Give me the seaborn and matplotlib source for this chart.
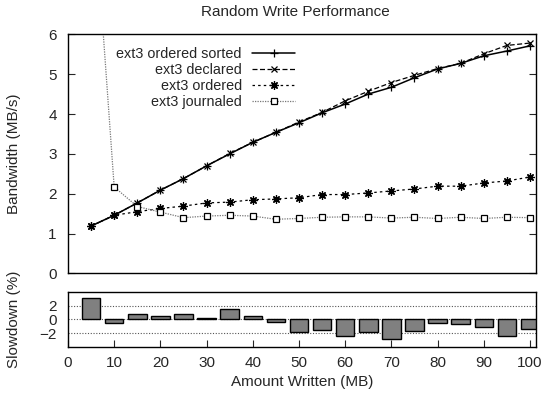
import matplotlib
matplotlib.use("Agg")
import matplotlib.pyplot as plt
import seaborn as sns
import numpy as np

# data
sizes = [5, 10, 15, 20, 25, 30, 35, 40, 45, 50, 55, 60, 65, 70, 75, 80, 85, 90, 95, 100]
ordered_sorted = [1.19, 1.46, 1.77, 2.09, 2.38, 2.70, 3.00, 3.29, 3.54, 3.78, 4.03, 4.25, 4.50, 4.67,
                  4.91, 5.13, 5.27, 5.46, 5.58, 5.71]
declared = [1.19, 1.46, 1.77, 2.09, 2.38, 2.70, 3.01, 3.29, 3.54, 3.80, 4.04, 4.33, 4.57, 4.79,
            4.97, 5.14, 5.27, 5.51, 5.72, 5.78]
ordered = [1.19, 1.46, 1.55, 1.63, 1.69, 1.77, 1.79, 1.85, 1.87, 1.90, 1.98, 1.98, 2.02, 2.07,
           2.12, 2.19, 2.19, 2.27, 2.32, 2.42]
journaled = [10.3, 2.17, 1.68, 1.54, 1.40, 1.44, 1.46, 1.44, 1.36, 1.38, 1.41, 1.42, 1.42, 1.39,
             1.41, 1.38, 1.41, 1.38, 1.41, 1.40]
slowdown = [3.2, -0.58, 0.82, 0.58, 0.82, 0.29, 1.5, 0.48, -0.43, -1.79, -1.6, -2.46, -1.88, -2.9,
            -1.74, -0.58, -0.72, -1.11, -2.46, -1.35]

sns.set_style("ticks")
plt.rcParams['font.family'] = ['Liberation Sans', 'DejaVu Sans']
plt.rcParams['font.size'] = 11

fig = plt.figure(figsize=(5.5, 4), dpi=100)
ax = fig.add_axes([0.1236, 0.3163, 0.8509, 0.598])
ax2 = fig.add_axes([0.1236, 0.1333, 0.8509, 0.136])

# top panel: bandwidth lines
sns.lineplot(x=sizes, y=ordered_sorted, ax=ax, color='black', linewidth=1.1, marker='+',
             markersize=6, markeredgecolor='black', markeredgewidth=0.9,
             label='ext3 ordered sorted')
sns.lineplot(x=sizes, y=declared, ax=ax, color='black', linewidth=0.9, linestyle=(0, (4, 2)),
             marker='x', markersize=5, markeredgecolor='black', markeredgewidth=0.9,
             label='ext3 declared')
sns.lineplot(x=sizes, y=ordered, ax=ax, color='black', linewidth=0.9, linestyle=(0, (2, 2.5)),
             marker=(8, 2, 0), markersize=6, markeredgecolor='black', markeredgewidth=0.9,
             label='ext3 ordered')
sns.lineplot(x=sizes, y=journaled, ax=ax, color='#777777', linewidth=0.9, linestyle=(0, (1, 1)),
             marker='s', markersize=5, markerfacecolor='white', markeredgecolor='black',
             markeredgewidth=0.9, label='ext3 journaled')

ax.set_xlim(0, 101.3)
ax.set_ylim(0, 6)
ax.set_yticks(range(0, 7))
ax.set_xticks([])
ax.set_xlabel('')
ax.set_ylabel('Bandwidth (MB/s)')
ax.yaxis.set_label_coords(-0.1, 0.5)
ax.tick_params(axis='y', direction='in', left=True, right=True, pad=8, length=5)
for s in ax.spines.values():
    s.set_visible(True)
    s.set_color('black')
    s.set_linewidth(1)

ax.legend(loc='upper right', bbox_to_anchor=(0.512, 1.0), frameon=False, markerfirst=False,
          alignment='right', handlelength=3.0, handletextpad=0.7, labelspacing=0.15,
          borderpad=0.35, fontsize=10.4)

# bottom panel: slowdown bars
ax2.yaxis.grid(True, color='#555555', linestyle=(0, (1, 1.5)), linewidth=0.8)
ax2.set_axisbelow(True)
sns.barplot(x=sizes, y=slowdown, ax=ax2, native_scale=True, width=0.8, color='#808080',
            saturation=1, edgecolor='black', linewidth=1)
ax2.set_xlim(0, 101.3)
ax2.set_ylim(-4, 4)
ax2.set_yticks([-2, 0, 2])
ax2.set_xticks(range(0, 101, 10))
ax2.set_xticklabels([str(v) for v in range(0, 101, 10)])
ax2.tick_params(axis='x', direction='in', bottom=True, top=False, pad=7, length=5)
ax2.tick_params(axis='y', direction='in', left=False, right=False, pad=8)
ax2.set_ylabel('Slowdown (%)')
ax2.yaxis.set_label_coords(-0.1, 0.5)
ax2.set_xlabel('Amount Written (MB)', labelpad=3)
for s in ax2.spines.values():
    s.set_visible(True)
    s.set_color('black')
    s.set_linewidth(1)

fig.text(295 / 550, 1 - 12 / 400, 'Random Write Performance', ha='center', va='center', fontsize=11)

fig.savefig('out.png', dpi=100)
